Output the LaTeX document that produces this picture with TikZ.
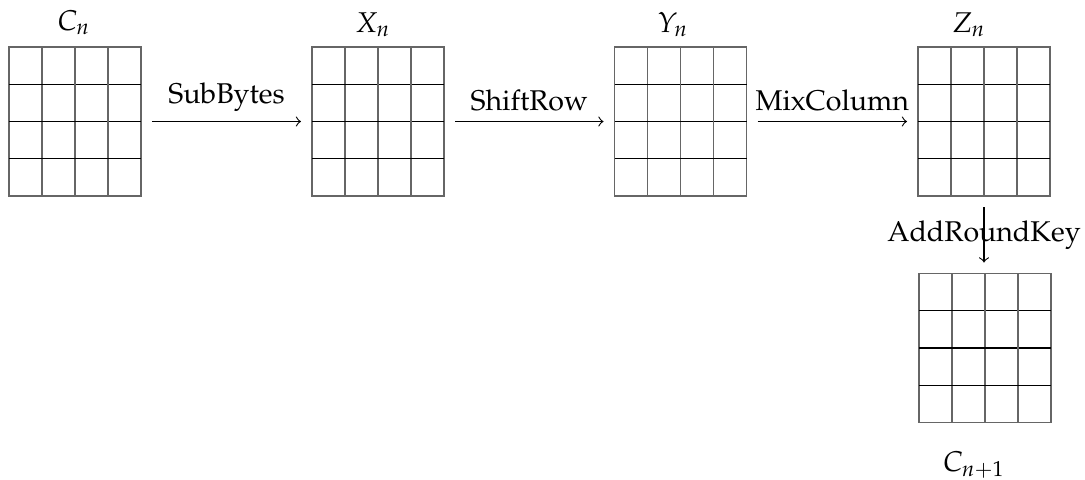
\documentclass[tikz,border=0pt]{standalone}
\usepackage[T1]{fontenc}
\usepackage{mathpazo}
\usetikzlibrary{calc}
\tikzset{
  aesbox/.style={draw=black!60, line width=0.4pt, minimum width=46.2pt, minimum height=52.15pt, inner sep=0pt, outer sep=0pt},
  gridv/.style={draw=black!60, line width=0.4pt},
  gridh/.style={draw=black, line width=0.4pt},
  conn/.style={->, line width=0.4pt, shorten <=3.85pt, shorten >=3.85pt},
  stname/.style={anchor=base, inner sep=0pt, font=\fontsize{10}{12}\selectfont},
  oplabel/.style={font=\fontsize{10}{12}\selectfont}
}
\newcommand\aesgrid[3]{%
  \node[aesbox] (#1) at (#2,#3) {};
  \foreach \i in {1,2,3} {
    \draw[gridv] ($(#1.north west)!\i/4!(#1.north east)$) -- ($(#1.south west)!\i/4!(#1.south east)$);
    \draw[gridh] ($(#1.north west)!\i/4!(#1.south west)$) -- ($(#1.north east)!\i/4!(#1.south east)$);
  }}
\begin{document}
\begin{tikzpicture}[x=0.35pt, y=-0.35pt]
\useasboundingbox (0,0) rectangle (1085,479);
\aesgrid{g1}{75}{121.5}
\aesgrid{g2}{378}{121.5}
\aesgrid{g3}{680.5}{121.5}
\aesgrid{g4}{984}{121.5}
\aesgrid{g5}{985}{348}
\node[stname] (l1) at (74,30) {$C_n$};
\node[stname] (l2) at (373,32) {$X_n$};
\node[stname] (l3) at (673,32) {$Y_n$};
\node[stname] (l4) at (969,32) {$Z_n$};
\node[stname] (l5) at (974,471) {$C_{n+1}$};
\draw[conn] (g1) -- node[above, oplabel] (t1) {SubBytes} (g2);
\draw[conn] (g2) -- node[above, oplabel] (t2) {ShiftRow} (g3);
\draw[conn] (g3) -- node[above, oplabel] (t3) {MixColumn} (g4);
\draw[conn] (g4.south) -- node[oplabel] (t4) {AddRoundKey} (g4.south |- g5.north);
\end{tikzpicture}
\end{document}
